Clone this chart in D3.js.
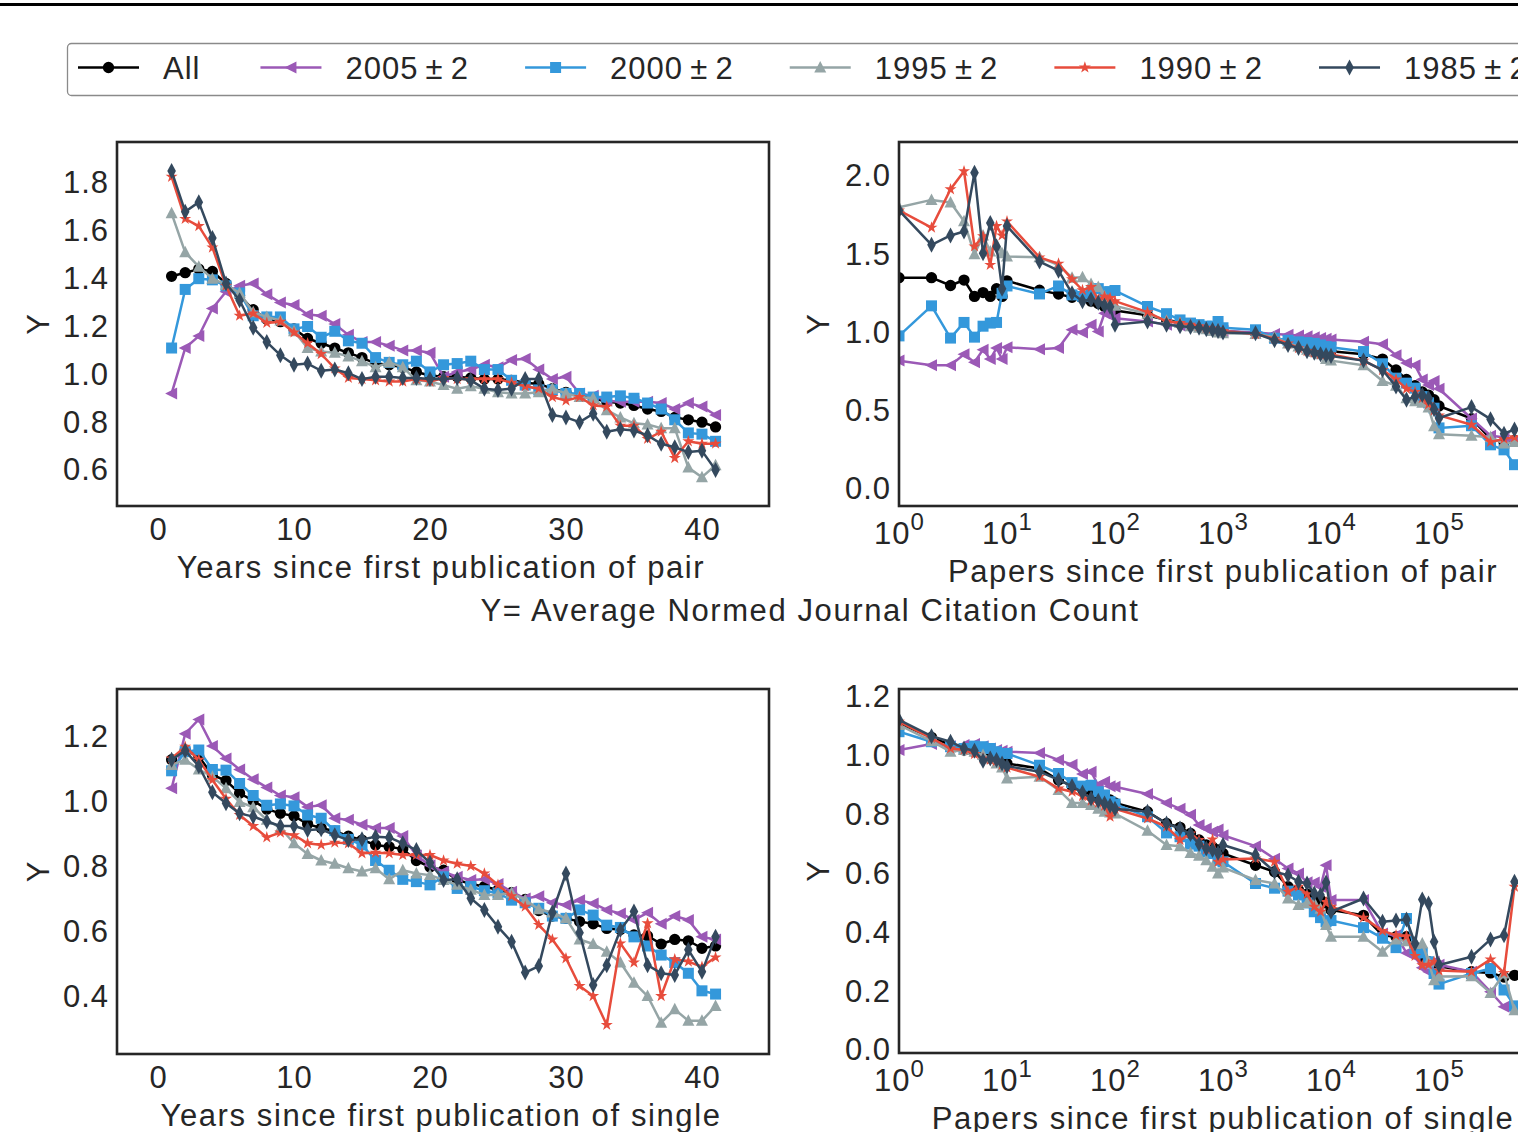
<!DOCTYPE html>
<html>
<head>
<meta charset="utf-8">
<script src="https://cdn.jsdelivr.net/npm/d3@7"></script>
<style>
body { margin: 0; background: #fff; }
svg { display: block; }
text { font-family: "Liberation Sans", Arial, sans-serif; fill: #262626; letter-spacing: 1px; }
text.lab { letter-spacing: 1.6px; }
</style>
</head>
<body>
<svg id="svg" width="1518" height="1132"></svg>
<script>
// x values
var years = [1,2,3,4,5,6,7,8,9,10,11,12,13,14,15,16,17,18,19,20,21,22,23,24,25,26,27,28,29,30,31,32,33,34,35,36,37,38,39,40,41];
var papers = [1,2,3,4,5,6,7,8,9,10,20,30,40,50,60,70,80,90,100,200,300,400,500,600,700,800,900,
  1000,2000,3000,4000,5000,6000,7000,8000,9000,10000,20000,30000,40000,50000,60000,70000,80000,90000,
  100000,200000,300000,400000,500000];

var seriesNames = ['All', '2005\u2009±\u20092', '2000\u2009±\u20092', '1995\u2009±\u20092', '1990\u2009±\u20092', '1985\u2009±\u20092'];
var seriesColors = ['#000000', '#9b59b6', '#3498db', '#95a5a6', '#e74c3c', '#34495e'];

// years since first publication of pair
var pairYrAll  = [1.41,1.425,1.44,1.43,1.38,1.33,1.27,1.23,1.22,1.19,1.15,1.13,1.11,1.09,1.07,1.045,1.04,1.03,1.01,0.995,0.99,0.99,0.985,0.98,0.98,0.975,0.965,0.96,0.94,0.925,0.91,0.90,0.885,0.88,0.87,0.855,0.845,0.82,0.81,0.80,0.78];
var pairYr2005 = [0.92,1.11,1.16,1.275,1.345,1.37,1.38,1.335,1.30,1.29,1.25,1.245,1.21,1.165,1.135,1.135,1.12,1.10,1.10,1.09,0.99,1.01,1.02,1.04,1.03,1.06,1.065,1.02,0.98,0.99,0.92,0.91,0.89,0.885,0.885,0.885,0.88,0.855,0.88,0.865,0.83];
var pairYr2000 = [1.11,1.355,1.40,1.395,1.37,1.34,1.245,1.24,1.24,1.19,1.20,1.155,1.18,1.14,1.13,1.07,1.05,1.04,1.055,1.01,1.04,1.045,1.055,1.02,1.02,0.975,0.955,0.935,0.935,0.92,0.92,0.905,0.905,0.91,0.90,0.88,0.855,0.81,0.755,0.75,0.72];
var pairYr1995 = [1.673,1.51,1.45,1.40,1.375,1.34,1.26,1.24,1.225,1.18,1.11,1.095,1.09,1.075,1.055,1.03,1.05,1.03,0.975,0.97,0.955,0.94,0.95,0.94,0.925,0.92,0.92,0.925,0.94,0.92,0.905,0.90,0.85,0.82,0.795,0.79,0.775,0.775,0.61,0.57,0.62];
var pairYr1990 = [1.826,1.65,1.62,1.53,1.37,1.245,1.255,1.215,1.22,1.175,1.13,1.085,1.025,0.985,0.98,0.975,0.97,0.97,0.98,0.97,0.985,0.98,0.98,0.98,0.98,0.965,0.95,0.94,0.905,0.89,0.905,0.87,0.865,0.785,0.785,0.73,0.76,0.65,0.72,0.71,0.71];
var pairYr1985 = [1.85,1.68,1.72,1.57,1.38,1.31,1.195,1.135,1.08,1.04,1.045,1.015,1.02,1.005,0.98,0.99,0.99,0.985,0.985,0.98,0.98,0.985,0.975,0.94,0.935,0.94,0.98,0.98,0.83,0.82,0.80,0.835,0.76,0.77,0.765,0.745,0.71,0.695,0.675,0.68,0.60];

// papers since first publication of pair
var pairPpAll  = [1.35,1.35,1.30,1.335,1.23,1.255,1.23,1.28,1.23,1.33, 1.27,1.245,1.225,1.22,1.20,1.185,1.165,1.155,1.14, 1.11,1.08,1.065,1.055,1.045,1.035,1.03,1.02, 1.01,0.995,0.97,0.94,0.925,0.91,0.90,0.89,0.885, 0.88,0.86,0.83,0.76,0.70,0.66,0.62,0.60,0.57, 0.53,0.45,0.32,0.30,0.31];
var pairPp2005 = [0.82,0.79,0.79,0.86,0.81,0.89,0.83,0.90,0.83,0.905, 0.893,0.90,1.017,1.0,1.05,1.006,1.123,1.11,1.09, 1.07,1.05,1.045,1.04,1.035,1.03,1.025,1.02, 1.01,1.0,0.99,0.985,0.98,0.975,0.97,0.965,0.96, 0.955,0.94,0.925,0.855,0.805,0.79,0.70,0.665,0.69, 0.64,0.45,0.34,0.33,0.31];
var pairPp2000 = [0.978,1.17,0.964,1.064,0.97,1.04,1.06,1.064,1.25,1.297, 1.246,1.297,1.24,1.23,1.25,1.28,1.26,1.26,1.268, 1.166,1.12,1.08,1.06,1.05,1.04,1.04,1.07, 1.03,1.017,0.963,0.95,0.94,0.935,0.93,0.92,0.91, 0.906,0.878,0.80,0.708,0.676,0.644,0.59,0.55,0.516, 0.39,0.404,0.282,0.25,0.155];
var pairPp1995 = [1.80,1.847,1.83,1.71,1.50,1.62,1.517,1.56,1.506,1.485, 1.48,1.43,1.35,1.353,1.31,1.29,1.23,1.20,1.17, 1.12,1.075,1.06,1.04,1.03,1.02,1.01,1.0, 0.995,0.99,0.97,0.93,0.91,0.89,0.875,0.86,0.83, 0.82,0.79,0.69,0.66,0.58,0.56,0.55,0.52,0.40, 0.35,0.34,0.33,0.29,0.30];
var pairPp1990 = [1.78,1.67,1.915,2.03,1.55,1.615,1.432,1.68,1.62,1.71, 1.48,1.44,1.34,1.27,1.29,1.21,1.23,1.22,1.20, 1.13,1.07,1.06,1.05,1.04,1.03,1.025,1.02, 1.01,0.99,0.96,0.93,0.90,0.88,0.87,0.86,0.86, 0.86,0.82,0.76,0.70,0.64,0.62,0.58,0.54,0.50, 0.47,0.41,0.30,0.32,0.33];
var pairPp1985 = [1.78,1.56,1.62,1.645,2.02,1.506,1.70,1.55,1.28,1.68, 1.453,1.395,1.25,1.20,1.21,1.19,1.17,1.165,1.05, 1.07,1.05,1.04,1.035,1.03,1.02,1.015,1.01, 1.0,0.995,0.95,0.92,0.90,0.88,0.87,0.86,0.855, 0.85,0.82,0.76,0.655,0.57,0.59,0.60,0.58,0.51, 0.453,0.523,0.446,0.353,0.38];

// years since first publication of single
var singleYrAll  = [1.13,1.16,1.14,1.083,1.066,1.027,1.004,0.978,0.965,0.957,0.932,0.92,0.91,0.895,0.883,0.868,0.862,0.855,0.82,0.80,0.79,0.76,0.748,0.74,0.729,0.721,0.70,0.666,0.649,0.642,0.632,0.625,0.611,0.608,0.591,0.588,0.563,0.577,0.573,0.55,0.557];
var singleYr2005 = [1.042,1.21,1.254,1.172,1.134,1.10,1.07,1.045,1.02,1.015,0.985,0.99,0.95,0.945,0.93,0.92,0.92,0.895,0.835,0.805,0.785,0.77,0.76,0.762,0.748,0.724,0.703,0.71,0.69,0.683,0.698,0.688,0.668,0.657,0.637,0.659,0.625,0.649,0.637,0.585,0.577];
var singleYr2000 = [1.096,1.155,1.16,1.10,1.098,1.057,1.02,0.99,0.994,0.988,0.96,0.95,0.912,0.885,0.868,0.82,0.79,0.762,0.755,0.745,0.77,0.734,0.74,0.727,0.72,0.698,0.69,0.673,0.649,0.642,0.668,0.652,0.621,0.614,0.585,0.557,0.529,0.506,0.473,0.419,0.409];
var singleYr1995 = [1.114,1.13,1.10,1.078,1.042,1.0,0.984,0.945,0.92,0.873,0.84,0.82,0.81,0.796,0.786,0.796,0.762,0.79,0.78,0.775,0.76,0.745,0.73,0.714,0.714,0.721,0.698,0.67,0.66,0.642,0.577,0.563,0.539,0.506,0.444,0.403,0.321,0.362,0.327,0.327,0.372];
var singleYr1990 = [1.134,1.17,1.13,1.068,1.01,0.96,0.926,0.891,0.906,0.898,0.873,0.868,0.875,0.873,0.842,0.844,0.842,0.837,0.837,0.837,0.82,0.81,0.803,0.78,0.745,0.71,0.678,0.622,0.577,0.519,0.434,0.403,0.314,0.565,0.506,0.627,0.403,0.516,0.509,0.493,0.522];
var singleYr1985 = [1.13,1.158,1.11,1.03,0.996,0.965,0.955,0.94,0.926,0.926,0.914,0.916,0.898,0.883,0.885,0.893,0.891,0.873,0.852,0.813,0.76,0.762,0.704,0.668,0.616,0.57,0.475,0.495,0.66,0.78,0.598,0.437,0.498,0.606,0.663,0.498,0.473,0.468,0.545,0.478,0.585];

// papers since first publication of single
var singlePpAll  = [1.11,1.063,1.037,1.02,1.014,1.003,0.995,0.988,0.98,0.974, 0.957,0.918,0.897,0.886,0.875,0.867,0.855,0.85,0.84, 0.81,0.77,0.757,0.736,0.714,0.697,0.69,0.68, 0.668,0.628,0.606,0.555,0.544,0.53,0.52,0.51,0.50, 0.476,0.458,0.39,0.385,0.385,0.35,0.317,0.30,0.29, 0.285,0.266,0.262,0.248,0.254];
var singlePp2005 = [1.02,1.04,1.033,1.037,1.04,1.033,1.025,1.02,1.017,1.014, 1.01,0.986,0.97,0.938,0.946,0.90,0.912,0.897,0.895, 0.87,0.84,0.82,0.80,0.765,0.753,0.742,0.75, 0.73,0.693,0.65,0.617,0.60,0.57,0.569,0.555,0.628, 0.51,0.51,0.396,0.39,0.33,0.317,0.28,0.266,0.30, 0.29,0.266,0.198,0.147,0.135];
var singlePp2000 = [1.082,1.048,1.031,1.025,1.033,1.031,1.025,1.014,1.008,1.008, 0.968,0.94,0.909,0.897,0.90,0.878,0.867,0.844,0.836, 0.793,0.738,0.725,0.70,0.693,0.674,0.668,0.645, 0.64,0.566,0.55,0.54,0.527,0.50,0.47,0.45,0.436, 0.44,0.416,0.38,0.348,0.447,0.34,0.33,0.30,0.26, 0.224,0.26,0.277,0.204,0.15];
var singlePp1995 = [1.105,1.05,1.014,1.02,1.014,1.003,0.991,0.974,0.96,0.923, 0.929,0.884,0.84,0.84,0.833,0.82,0.81,0.807,0.804, 0.745,0.697,0.693,0.67,0.66,0.645,0.623,0.60, 0.62,0.578,0.566,0.515,0.493,0.50,0.50,0.48,0.425, 0.385,0.385,0.334,0.376,0.37,0.36,0.362,0.30,0.237, 0.25,0.251,0.194,0.26,0.135];
var singlePp1990 = [1.116,1.06,1.025,1.02,1.006,0.991,0.986,0.983,0.969,0.96, 0.929,0.889,0.878,0.863,0.847,0.84,0.83,0.793,0.82, 0.787,0.759,0.714,0.736,0.714,0.682,0.716,0.64, 0.648,0.651,0.64,0.538,0.555,0.53,0.487,0.47,0.503, 0.487,0.45,0.405,0.39,0.387,0.32,0.288,0.29,0.30, 0.27,0.266,0.308,0.262,0.555];
var singlePp1985 = [1.122,1.067,1.048,1.025,1.017,0.983,0.991,0.986,0.974,0.965, 0.946,0.918,0.897,0.875,0.855,0.847,0.838,0.83,0.82, 0.81,0.77,0.753,0.734,0.70,0.685,0.68,0.67, 0.697,0.663,0.606,0.594,0.572,0.566,0.532,0.527,0.569, 0.47,0.515,0.436,0.44,0.444,0.362,0.512,0.498,0.368, 0.289,0.317,0.376,0.39,0.572];

var yearTicks = [0, 10, 20, 30, 40];
var paperTicks = [1, 10, 100, 1000, 10000, 100000];

var svg = d3.select('svg');

// marker shapes, one per series
var markerPaths = [
    d3.symbol().type(d3.symbolCircle).size(100)(),
    'M-6.5,0L5.5,-6L5.5,6Z',
    'M-5.5,-5.5L5.5,-5.5L5.5,5.5L-5.5,5.5Z',
    'M0,-6.5L6,5L-6,5Z',
    d3.symbol().type(d3.symbolStar).size(45)(),
    'M0,-8L4.3,0L0,8L-4.3,0Z'
];

// top rule
svg.append('line')
    .attr('x1', 0).attr('x2', 1518)
    .attr('y1', 4.5).attr('y2', 4.5)
    .attr('stroke', '#000').attr('stroke-width', 3);

var panels = [
    {x0: 117, y0: 142, x1: 769, y1: 506, log: false, xs: years,
     ys: [pairYrAll, pairYr2005, pairYr2000, pairYr1995, pairYr1990, pairYr1985],
     yDomain: [0.4495, 1.9714], yTicks: [0.6, 0.8, 1.0, 1.2, 1.4, 1.6, 1.8],
     xlabel: 'Years since first publication of pair', xlabY: 578, ylabX: 38},
    {x0: 899, y0: 142, x1: 1551, y1: 506, log: true, xs: papers,
     ys: [pairPpAll, pairPp2005, pairPp2000, pairPp1995, pairPp1990, pairPp1985],
     yDomain: [-0.109, 2.217], yTicks: [0.0, 0.5, 1.0, 1.5, 2.0],
     xlabel: 'Papers since first publication of pair', xlabY: 582, ylabX: 818},
    {x0: 117, y0: 689, x1: 769, y1: 1054, log: false, xs: years,
     ys: [singleYrAll, singleYr2005, singleYr2000, singleYr1995, singleYr1990, singleYr1985],
     yDomain: [0.2246, 1.3477], yTicks: [0.4, 0.6, 0.8, 1.0, 1.2],
     xlabel: 'Years since first publication of single', xlabY: 1126, ylabX: 38},
    {x0: 899, y0: 689, x1: 1551, y1: 1053, log: true, xs: papers,
     ys: [singlePpAll, singlePp2005, singlePp2000, singlePp1995, singlePp1990, singlePp1985],
     yDomain: [-0.0102, 1.2272], yTicks: [0.0, 0.2, 0.4, 0.6, 0.8, 1.0, 1.2],
     xlabel: 'Papers since first publication of single', xlabY: 1129, ylabX: 818}
];

panels.forEach(function(p, pi) {
    var g = svg.append('g');

    var x = p.log
        ? d3.scaleLog().domain([1, Math.pow(10, (p.x1 - p.x0) / 108)]).range([p.x0, p.x1])
        : d3.scaleLinear().domain([-3.015, 44.93]).range([p.x0, p.x1]);
    var y = d3.scaleLinear().domain(p.yDomain).range([p.y1, p.y0]);

    var clipId = 'clip' + pi;
    g.append('clipPath').attr('id', clipId)
        .append('rect')
        .attr('x', p.x0).attr('y', p.y0)
        .attr('width', p.x1 - p.x0).attr('height', p.y1 - p.y0);

    // y axis
    var yAxis = g.append('g')
        .attr('transform', 'translate(' + p.x0 + ',0)')
        .call(d3.axisLeft(y).tickValues(p.yTicks).tickSize(0).tickPadding(8).tickFormat(d3.format('.1f')));
    yAxis.select('.domain').remove();
    yAxis.selectAll('text').attr('font-size', 31).attr('font-family', null).style('fill', '#262626');

    // x axis
    var xAxis = g.append('g')
        .attr('transform', 'translate(0,' + p.y1 + ')')
        .call(d3.axisBottom(x).tickValues(p.log ? paperTicks : yearTicks).tickSize(0)
            .tickPadding(p.log ? 16 : 12).tickFormat(p.log ? function() { return ''; } : d3.format('d')));
    xAxis.select('.domain').remove();
    xAxis.selectAll('text').attr('font-size', 31).attr('font-family', null).style('fill', '#262626');
    if (p.log) {
        xAxis.selectAll('.tick text').each(function(d) {
            var t = d3.select(this);
            t.append('tspan').text('10');
            t.append('tspan').attr('dy', -14).attr('font-size', 24)
                .text(Math.round(Math.log10(d)));
        });
    }

    // series
    var plot = g.append('g').attr('clip-path', 'url(#' + clipId + ')');
    p.ys.forEach(function(vals, si) {
        var pts = vals.map(function(v, i) { return [p.xs[i], v]; });
        var line = d3.line()
            .x(function(d) { return x(d[0]); })
            .y(function(d) { return y(d[1]); });
        plot.append('path')
            .attr('d', line(pts))
            .attr('fill', 'none')
            .attr('stroke', seriesColors[si])
            .attr('stroke-width', 2.5)
            .attr('stroke-linejoin', 'round');
        plot.selectAll('.m' + si)
            .data(pts)
            .enter()
            .append('path')
            .attr('class', 'm' + si)
            .attr('d', markerPaths[si])
            .attr('transform', function(d) { return 'translate(' + x(d[0]) + ',' + y(d[1]) + ')'; })
            .attr('fill', seriesColors[si]);
    });

    // frame
    g.append('rect')
        .attr('x', p.x0).attr('y', p.y0)
        .attr('width', p.x1 - p.x0).attr('height', p.y1 - p.y0)
        .attr('fill', 'none')
        .attr('stroke', '#262626')
        .attr('stroke-width', 2.6);

    // labels
    g.append('text')
        .attr('class', 'lab')
        .attr('x', (p.x0 + p.x1) / 2 - 2)
        .attr('y', p.xlabY)
        .attr('text-anchor', 'middle')
        .attr('font-size', 31)
        .text(p.xlabel);
    g.append('text')
        .attr('transform', 'translate(' + p.ylabX + ',' + ((p.y0 + p.y1) / 2) + ') rotate(-90)')
        .attr('text-anchor', 'middle')
        .attr('dy', '0.36em')
        .attr('font-size', 31)
        .text('Y');
});

svg.append('text')
    .attr('class', 'lab')
    .attr('x', 810).attr('y', 621)
    .attr('text-anchor', 'middle')
    .attr('font-size', 31)
    .text('Y=  Average Normed Journal Citation Count');

// legend
var legend = svg.append('g');
legend.append('rect')
    .attr('x', 67.5).attr('y', 43.5)
    .attr('width', 1600).attr('height', 52)
    .attr('rx', 4)
    .attr('fill', '#fff')
    .attr('stroke', '#8a8a8a')
    .attr('stroke-width', 1.3);

var lx = 78;
seriesNames.forEach(function(name, si) {
    legend.append('line')
        .attr('x1', lx).attr('x2', lx + 61)
        .attr('y1', 67.5).attr('y2', 67.5)
        .attr('stroke', seriesColors[si])
        .attr('stroke-width', 2.5);
    legend.append('path')
        .attr('d', markerPaths[si])
        .attr('transform', 'translate(' + (lx + 30.5) + ',67.5)')
        .attr('fill', seriesColors[si]);
    var t = legend.append('text')
        .attr('x', lx + 85).attr('y', 79)
        .attr('font-size', 31)
        .text(name);
    // the first column is a little wider than its short label
    lx = lx + 85 + t.node().getComputedTextLength() + (si === 0 ? 60 : 56);
});
</script>
</body>
</html>
